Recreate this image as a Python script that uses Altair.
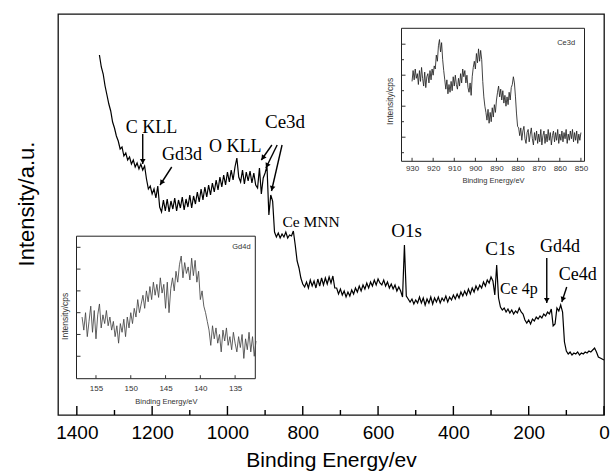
import math
import pandas as pd
import altair as alt

W, H = 546, 401

# ---------------- main survey spectrum (value = counts, arbitrary units) ----------------
main_ev = list(range(1340, -1, -5))
main_counts = [
    360, 348, 341, 329, 320, 311, 304, 293, 287, 279,
    274, 266, 268, 259, 262, 255, 258, 251, 255, 248,
    252, 246, 251, 245, 249, 236, 226, 229, 221, 226,
    217, 229, 208, 203, 215, 204, 216, 203, 214, 206,
    217, 204, 215, 207, 218, 205, 216, 208, 220, 207,
    219, 211, 223, 213, 226, 215, 228, 218, 230, 220,
    232, 223, 235, 225, 238, 228, 240, 230, 243, 233,
    245, 235, 248, 257, 238, 233, 245, 231, 243, 234,
    244, 232, 242, 230, 227, 247, 221, 237, 242, 249,
    200, 220, 214, 183, 178, 182, 177, 181, 178, 183,
    177, 180, 179, 184, 170, 154, 147, 137, 131, 128,
    133, 127, 135, 129, 134, 127, 136, 129, 137, 130,
    137, 131, 138, 132, 139, 127, 127, 121, 126, 120,
    124, 118, 123, 119, 125, 121, 127, 123, 129, 124,
    130, 126, 132, 127, 133, 129, 135, 130, 136, 132,
    130, 135, 129, 133, 127, 131, 126, 130, 124, 128,
    124, 118, 170, 119, 116, 113, 116, 111, 115, 112,
    118, 112, 117, 110, 116, 112, 118, 111, 117, 113,
    118, 112, 117, 114, 119, 113, 118, 115, 120, 116,
    121, 117, 123, 119, 124, 120, 126, 121, 127, 123,
    129, 125, 130, 127, 133, 129, 135, 132, 138, 134,
    120, 150, 117, 108, 105, 107, 103, 106, 102, 105,
    101, 104, 102, 107, 103, 101, 95, 92, 95, 91,
    96, 94, 98, 96, 99, 97, 101, 99, 103, 101,
    106, 89, 91, 107, 104, 110, 103, 73, 64, 61,
    63, 60, 62, 61, 63, 60, 62, 61, 63, 62,
    64, 63, 65, 67, 63, 58, 57, 56, 55,
]
main_major_ticks = [0, 200, 400, 600, 800, 1000, 1200, 1400]
main_minor_ticks = [100, 300, 500, 700, 900, 1100, 1300]

# ---------------- Ce3d inset ----------------
ce_counts = [
    4.6, 5.3, 4.7, 5.4, 4.8, 5.1, 4.4, 5.3, 4.6, 5.5, 4.8, 4.3, 5.2, 4.2, 4.9, 5.1, 4.5, 5.3, 4.7, 5.4, 5.0,
    5.6, 5.4, 6.3, 5.9, 6.9, 7.3, 6.5, 7.1, 6.0, 5.3, 4.7, 4.1, 4.7, 3.8, 4.4, 3.9, 4.6, 4.0, 4.9, 4.3,
    5.0, 4.4, 4.1, 4.8, 4.3, 5.1, 4.5, 5.4, 4.9, 5.3, 4.5, 5.0, 4.2, 3.9, 4.5, 3.7, 4.9, 5.5, 5.9, 5.4,
    6.4, 5.8, 6.7, 5.9, 6.6, 6.0, 4.6, 3.6, 3.0, 2.6, 2.1, 2.8, 1.9, 2.6, 2.0, 2.9, 2.3, 3.1, 2.6, 3.4,
    3.9, 4.3, 3.6, 4.1, 3.4, 4.0, 3.2, 3.7, 3.0, 3.6, 3.1, 3.9, 3.4, 4.2, 4.4, 4.9, 4.5, 3.6, 2.5, 1.7,
    1.6, 1.1, 1.6, 0.8, 1.4, 1.7, 0.9, 0.6, 1.3, 1.5, 0.7, 1.2, 1.6, 0.9, 0.5, 1.3, 0.8, 1.4, 0.6, 1.2,
    0.7, 1.5, 0.5, 1.1, 1.4, 0.6, 1.2, 0.7, 1.5, 0.8, 1.3, 0.5, 1.1, 1.4, 0.7, 1.3, 0.8, 1.5, 0.6, 1.2,
    0.8, 1.4, 0.7, 1.3, 0.9, 1.5, 0.6, 1.2, 0.8, 1.4, 0.9, 1.5, 0.7, 1.3, 0.8, 1.4, 0.6, 1.2, 0.8, 1.3,
]
ce_ev = [930 - 0.5 * i for i in range(len(ce_counts))]
ce_x_ticks = [930, 920, 910, 900, 890, 880, 870, 860, 850]
ce_y_major = [1, 3, 5, 7]
ce_y_minor = [0, 2, 4, 6]

# ---------------- Gd4d inset ----------------
gd_counts = [
    1.8, 1.2, 2.0, 0.9, 1.6, 2.3, 1.1, 2.1, 0.8, 1.9, 2.4, 1.3, 1.9, 1.5, 2.1, 1.4, 1.8, 1.2, 1.6, 0.9,
    1.4, 0.6, 1.5, 1.1, 1.7, 0.9, 1.8, 1.3, 2.0, 1.5, 2.2, 1.8, 2.6, 2.0, 2.4, 2.8, 2.2, 3.0, 2.5, 3.2,
    2.6, 3.4, 2.8, 3.3, 2.7, 3.6, 2.9, 3.3, 2.2, 3.4, 2.0, 3.1, 3.6, 3.0, 3.9, 3.4, 4.2, 4.6, 3.6, 4.3,
    3.8, 4.1, 3.5, 4.5, 3.7, 4.4, 3.4, 3.9, 2.6, 3.0, 2.3, 2.0, 1.6, 1.2, 0.5, 1.4, 0.8, 1.3, 0.6, 1.0,
    0.2, 1.2, 0.7, 1.3, 0.5, 0.9, 0.3, 1.1, 0.6, 0.2, 0.9, 0.4, 1.0, -0.1, 0.8, 0.3, 1.1, 0.2, 0.9, 0.0,
    0.7,
]
gd_ev = [157 - 0.25 * i for i in range(len(gd_counts))]
gd_x_ticks = [155, 150, 145, 140, 135]
gd_y_ticks = [0, 1, 2, 3, 4, 5]

# ---------------- annotations (main-plot data units) ----------------
ann_text = ["C KLL", "Gd3d", "O KLL", "Ce3d", "Ce MNN", "O1s", "C1s", "Gd4d", "Ce4d", "Ce 4p"]
ann_ev = [1202, 1121, 979, 847, 778, 524, 276, 117, 70, 226]
ann_val = [282, 255, 263, 287, 188, 178, 160, 163, 135, 121]
ann_size = [18, 18, 18, 19, 15.5, 19, 19, 18, 18, 16]

arr_ev0 = [1225, 1148, 882, 868, 855, 152, 99]
arr_val0 = [281, 248, 270, 270, 270, 157, 128]
arr_ev1 = [1225, 1179, 910, 898, 883, 152, 112]
arr_val1 = [251, 230, 255, 247, 224, 112, 113]

# ---------------- scales ----------------
CE_XD, CE_YD = [935, 848.3], [-0.555, 8.026]
GD_XD, GD_YD = [157.8, 132.1], [-1.03, 5.51]
CE_XR, CE_YR = [343.5, 526.5], [147.3, 14.3]
GD_XR, GD_YR = [18.5, 197.3], [364.7, 222.2]

sx_main = alt.Scale(domain=[1450, 0], range=[0, W], nice=False, zero=False)
sy_main = alt.Scale(domain=[0, H], range=[H, 0], nice=False, zero=False)
sx_ce = alt.Scale(domain=CE_XD, range=CE_XR, nice=False, zero=False)
sy_ce = alt.Scale(domain=CE_YD, range=CE_YR, nice=False, zero=False)
sx_gd = alt.Scale(domain=GD_XD, range=GD_XR, nice=False, zero=False)
sy_gd = alt.Scale(domain=GD_YD, range=GD_YR, nice=False, zero=False)


def per_px(dom, rng):
    return abs(dom[1] - dom[0]) / abs(rng[1] - rng[0])


FONT = "Liberation Sans"
SERIF = "Liberation Serif"

# ---------------- main layers ----------------
df_main = pd.DataFrame({"ev": main_ev, "counts": main_counts})
main_line = alt.Chart(df_main).mark_line(color="black", strokeWidth=1.2).encode(
    x=alt.X("ev:Q", scale=sx_main, axis=alt.Axis(
        orient="bottom", values=main_major_ticks, format="d", labels=True, ticks=False, tickSize=0,
        domain=False, grid=False, labelFont=FONT, labelFontSize=19, labelPadding=8.5,
        labelFlush=False, labelOverlap=False, labelColor="black",
        title="Binding Energy/ev", titleFont=FONT, titleFontSize=21, titleFontWeight="normal",
        titleColor="black", titleY=51.7, titleBaseline="alphabetic")),
    y=alt.Y("counts:Q", scale=sy_main, axis=alt.Axis(
        orient="left", labels=False, ticks=False, domain=False, grid=False,
        title="Intensity/a.u.", titleFont=FONT, titleFontSize=22, titleFontWeight="normal",
        titleColor="black", titleAngle=270, titleX=-24.7, titleY=189.5,
        titleBaseline="alphabetic", titleAlign="center")),
)

df_ann = pd.DataFrame({"ev": ann_ev, "val": ann_val, "txt": ann_text, "fs": ann_size})
ann_layer = alt.Chart(df_ann).mark_text(font=SERIF, color="black", align="center",
                                        baseline="alphabetic").encode(
    x=alt.X("ev:Q", scale=sx_main, axis=None),
    y=alt.Y("val:Q", scale=sy_main, axis=None),
    text="txt:N",
    size=alt.Size("fs:Q", scale=None),
)

# arrow shafts and the inward ticks of the main axis share one rule layer
all_ticks = main_major_ticks + main_minor_ticks
tick_len = [9] * len(main_major_ticks) + [5] * len(main_minor_ticks)
df_rules = pd.DataFrame({
    "ev0": arr_ev0 + all_ticks,
    "v0": arr_val0 + [0] * len(all_ticks),
    "ev1": arr_ev1 + all_ticks,
    "v1": arr_val1 + tick_len,
})
rule_layer = alt.Chart(df_rules).mark_rule(color="black", strokeWidth=1.4).encode(
    x=alt.X("ev0:Q", scale=sx_main, axis=None),
    x2="ev1:Q",
    y=alt.Y("v0:Q", scale=sy_main, axis=None),
    y2="v1:Q",
)

# arrow heads: rotate triangles along each shaft
ppe = W / 1450.0
head_ev, head_val, head_ang = [], [], []
for e0, v0, e1, v1 in zip(arr_ev0, arr_val0, arr_ev1, arr_val1):
    dx = -(e1 - e0) * ppe
    dy = -(v1 - v0)
    L = math.hypot(dx, dy)
    ux, uy = dx / L, dy / L
    head_ang.append(math.degrees(math.atan2(ux, -uy)) % 360)
    head_ev.append(e1 + 2.6 * ux / ppe)
    head_val.append(v1 + 2.6 * uy)
df_head = pd.DataFrame({"ev": head_ev, "val": head_val, "ang": head_ang})
head_layer = alt.Chart(df_head).mark_point(shape="triangle-up", filled=True, color="black",
                                           size=32, opacity=1).encode(
    x=alt.X("ev:Q", scale=sx_main, axis=None),
    y=alt.Y("val:Q", scale=sy_main, axis=None),
    angle=alt.Angle("ang:Q", scale=None),
)


def inset_layers(sx, sy, xd, yd, xr, yr, ev, counts, line_color, xt, ymaj, ymin,
                 label_pad, title_y, ytitle_x, ytitle_y, tag, tag_xy):
    frame = alt.Chart(pd.DataFrame({"fx0": [xd[0]], "fx1": [xd[1]], "fy0": [yd[0]], "fy1": [yd[1]]})).mark_rect(
        fill="white", stroke="#222", strokeWidth=1).encode(
        x=alt.X("fx0:Q", scale=sx, axis=alt.Axis(
            orient="bottom", offset=-(H - yr[0]), values=xt, format="d", labels=True, ticks=False,
            tickSize=0, domain=False, grid=False, labelFont=FONT, labelFontSize=8, labelColor="#333",
            labelPadding=label_pad, labelFlush=False, labelOverlap=False, title="Binding Energy/eV",
            titleFont=FONT, titleFontSize=7.5, titleFontWeight="normal", titleColor="#333",
            titleY=title_y, titleBaseline="alphabetic")),
        x2="fx1:Q",
        y=alt.Y("fy0:Q", scale=sy, axis=alt.Axis(
            orient="left", offset=-xr[0], labels=False, ticks=False, domain=False, grid=False,
            title="Intensity/cps", titleFont=FONT, titleFontSize=8.5, titleFontWeight="normal",
            titleColor="#333", titleAngle=270, titleX=ytitle_x, titleY=ytitle_y,
            titleBaseline="alphabetic", titleAlign="center")),
        y2="fy1:Q",
    )
    line = alt.Chart(pd.DataFrame({"ev": ev, "c": counts})).mark_line(
        color=line_color, strokeWidth=0.85).encode(
        x=alt.X("ev:Q", scale=sx, axis=None),
        y=alt.Y("c:Q", scale=sy, axis=None),
    )
    ux = per_px(xd, xr)
    uy = per_px(yd, yr)
    # inward ticks on bottom and left edges, in one rule layer
    yv = ymaj + ymin
    dft = pd.DataFrame({
        "a0": list(xt) + [xd[0]] * len(yv),
        "a1": list(xt) + [xd[0] - 4 * ux] * len(ymaj) + [xd[0] - 2.5 * ux] * len(ymin),
        "b0": [yd[0]] * len(xt) + yv,
        "b1": [yd[0] + 3.5 * uy] * len(xt) + yv,
    })
    ticks = alt.Chart(dft).mark_rule(color="#333", strokeWidth=1).encode(
        x=alt.X("a0:Q", scale=sx, axis=None),
        x2="a1:Q",
        y=alt.Y("b0:Q", scale=sy, axis=None),
        y2="b1:Q",
    )
    text = alt.Chart(pd.DataFrame({"ev": [tag_xy[0]], "c": [tag_xy[1]], "t": [tag]})).mark_text(
        font=FONT, fontSize=7.5, color="#333", align="center", baseline="middle").encode(
        x=alt.X("ev:Q", scale=sx, axis=None),
        y=alt.Y("c:Q", scale=sy, axis=None),
        text="t:N",
    )
    return [frame, line, ticks, text]


ce_layers = inset_layers(sx_ce, sy_ce, CE_XD, CE_YD, CE_XR, CE_YR, ce_ev, ce_counts, "#222",
                         ce_x_ticks, ce_y_major, ce_y_minor, 3, 20.7, -9, 86.8, "Ce3d", (857, 7.06))
gd_layers = inset_layers(sx_gd, sy_gd, GD_XD, GD_YD, GD_XR, GD_YR, gd_ev, gd_counts, "#444",
                         gd_x_ticks, gd_y_ticks, [], 5.5, 25.2, -9.5, 301.8, "Gd4d", (134.1, 5.03))

chart = alt.layer(
    main_line, ann_layer, rule_layer, head_layer,
    *ce_layers, *gd_layers,
).resolve_scale(x="independent", y="independent").properties(
    width=W, height=H,
    autosize=alt.AutoSizeParams(type="none"),
    padding={"left": 58, "top": 14, "right": 6, "bottom": 58},
    background="white",
).configure_view(stroke="#111", strokeWidth=1.3).configure_axis(grid=False)

chart.save("out.html", embed_options={"renderer": "svg", "actions": False})
